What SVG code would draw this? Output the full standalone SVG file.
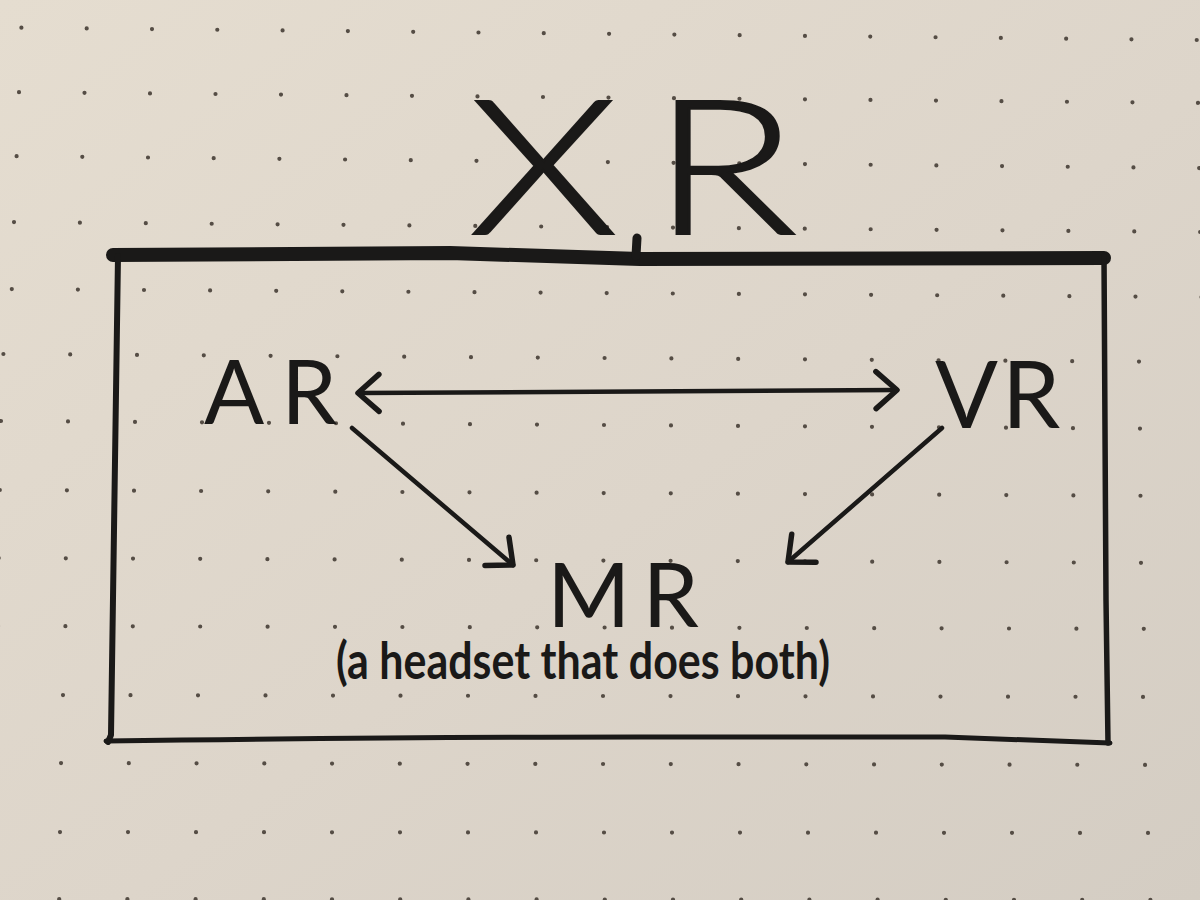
<svg xmlns="http://www.w3.org/2000/svg" width="1200" height="900" viewBox="0 0 1200 900">
  <defs>
    <linearGradient id="paper" x1="0" y1="0" x2="1" y2="1">
      <stop offset="0" stop-color="#e5ddd0"/>
      <stop offset="0.55" stop-color="#ddd5ca"/>
      <stop offset="1" stop-color="#d4cdc3"/>
    </linearGradient>
    <marker id="chev" viewBox="-32 -26 38 52" refX="0" refY="0" markerWidth="38" markerHeight="52" markerUnits="userSpaceOnUse" orient="auto-start-reverse">
      <path d="M -21 -18.5 L 0 0 L -21 18.5" class="head"/>
    </marker>
    <style>
      .dots { stroke: #554d45; stroke-width: 4.2; stroke-linecap: round; fill: none; }
      .ink { stroke: #1a1918; fill: none; stroke-linecap: round; stroke-linejoin: round; }
      .head { stroke: #1a1918; fill: none; stroke-width: 5.5; stroke-linecap: round; stroke-linejoin: round; }
      .conn { stroke: #1a1918; fill: none; stroke-width: 4.5; stroke-linecap: round; }
      .lbl { font-family: "Lato", "Liberation Sans", sans-serif; fill: #1a1918; }
    </style>
  </defs>

  <g id="paper-bg">
    <rect x="0" y="0" width="1200" height="900" fill="url(#paper)"/>
    <line class="dots" x1="21.4" y1="27.7" x2="1215" y2="40.2" stroke-dasharray="0 65.3"/>
    <line class="dots" x1="19" y1="92.2" x2="1215" y2="103.1" stroke-dasharray="0 65.5"/>
    <line class="dots" x1="16.6" y1="156.2" x2="1215" y2="168.2" stroke-dasharray="0 65.7"/>
    <line class="dots" x1="14" y1="222.1" x2="1215" y2="232.1" stroke-dasharray="0 65.9"/>
    <line class="dots" x1="11.8" y1="289.1" x2="1215" y2="297.1" stroke-dasharray="0 66.1"/>
    <line class="dots" x1="3.4" y1="354" x2="1215" y2="362.1" stroke-dasharray="0 66.8"/>
    <line class="dots" x1="1" y1="421" x2="1215" y2="429.1" stroke-dasharray="0 67"/>
    <line class="dots" x1="-0.2" y1="490" x2="1215" y2="496.1" stroke-dasharray="0 67.1"/>
    <line class="dots" x1="-1.4" y1="558" x2="1215" y2="563.1" stroke-dasharray="0 67.2"/>
    <line class="dots" x1="-2" y1="626" x2="1215" y2="629" stroke-dasharray="0 67.4"/>
    <line class="dots" x1="-4.5" y1="695" x2="1215" y2="697" stroke-dasharray="0 67.5"/>
    <line class="dots" x1="-6.7" y1="763" x2="1215" y2="765" stroke-dasharray="0 67.75"/>
    <line class="dots" x1="-8" y1="832" x2="1215" y2="833" stroke-dasharray="0 68"/>
    <line class="dots" x1="-9" y1="899" x2="1215" y2="900" stroke-dasharray="0 68.2"/>
  </g>

  <g id="xr-frame">
    <path class="ink" d="M 113 255 L 450 253 L 640 259 L 1104 258" stroke-width="14"/>
    <path class="ink" d="M 637 238 L 636 256" stroke-width="9"/>
    <path class="ink" d="M 118 256 L 111 735 L 108 742" stroke-width="6"/>
    <path class="ink" d="M 106 741 Q 400 737 640 737 T 945 737 L 1110 743" stroke-width="5"/>
    <path class="ink" d="M 1104 256 L 1106 600 L 1108 743" stroke-width="5.5"/>
    <text class="lbl" transform="translate(469,234) scale(1.27,1)" x="0" y="0" font-size="188" font-weight="300" letter-spacing="27" stroke="#1a1918" stroke-width="2.2">XR</text>
  </g>

  <g id="node-ar">
    <text class="lbl" x="204" y="424" font-size="89" font-weight="400" letter-spacing="17">AR</text>
  </g>

  <g id="node-vr">
    <text class="lbl" x="935" y="428" font-size="93" font-weight="400" letter-spacing="4">VR</text>
  </g>

  <g id="node-mr">
    <text class="lbl" x="547" y="627" font-size="90" font-weight="400" letter-spacing="12">MR</text>
    <text class="lbl" x="336" y="679" font-size="52" font-weight="700" textLength="494" lengthAdjust="spacingAndGlyphs">(a headset that does both)</text>
  </g>

  <g id="connectors">
    <line class="conn" x1="358" y1="393" x2="897" y2="390" marker-start="url(#chev)" marker-end="url(#chev)"/>
    <line class="conn" x1="352" y1="428" x2="513" y2="565" marker-end="url(#chev)"/>
    <line class="conn" x1="942" y1="428" x2="788" y2="562" marker-end="url(#chev)"/>
  </g>
</svg>
